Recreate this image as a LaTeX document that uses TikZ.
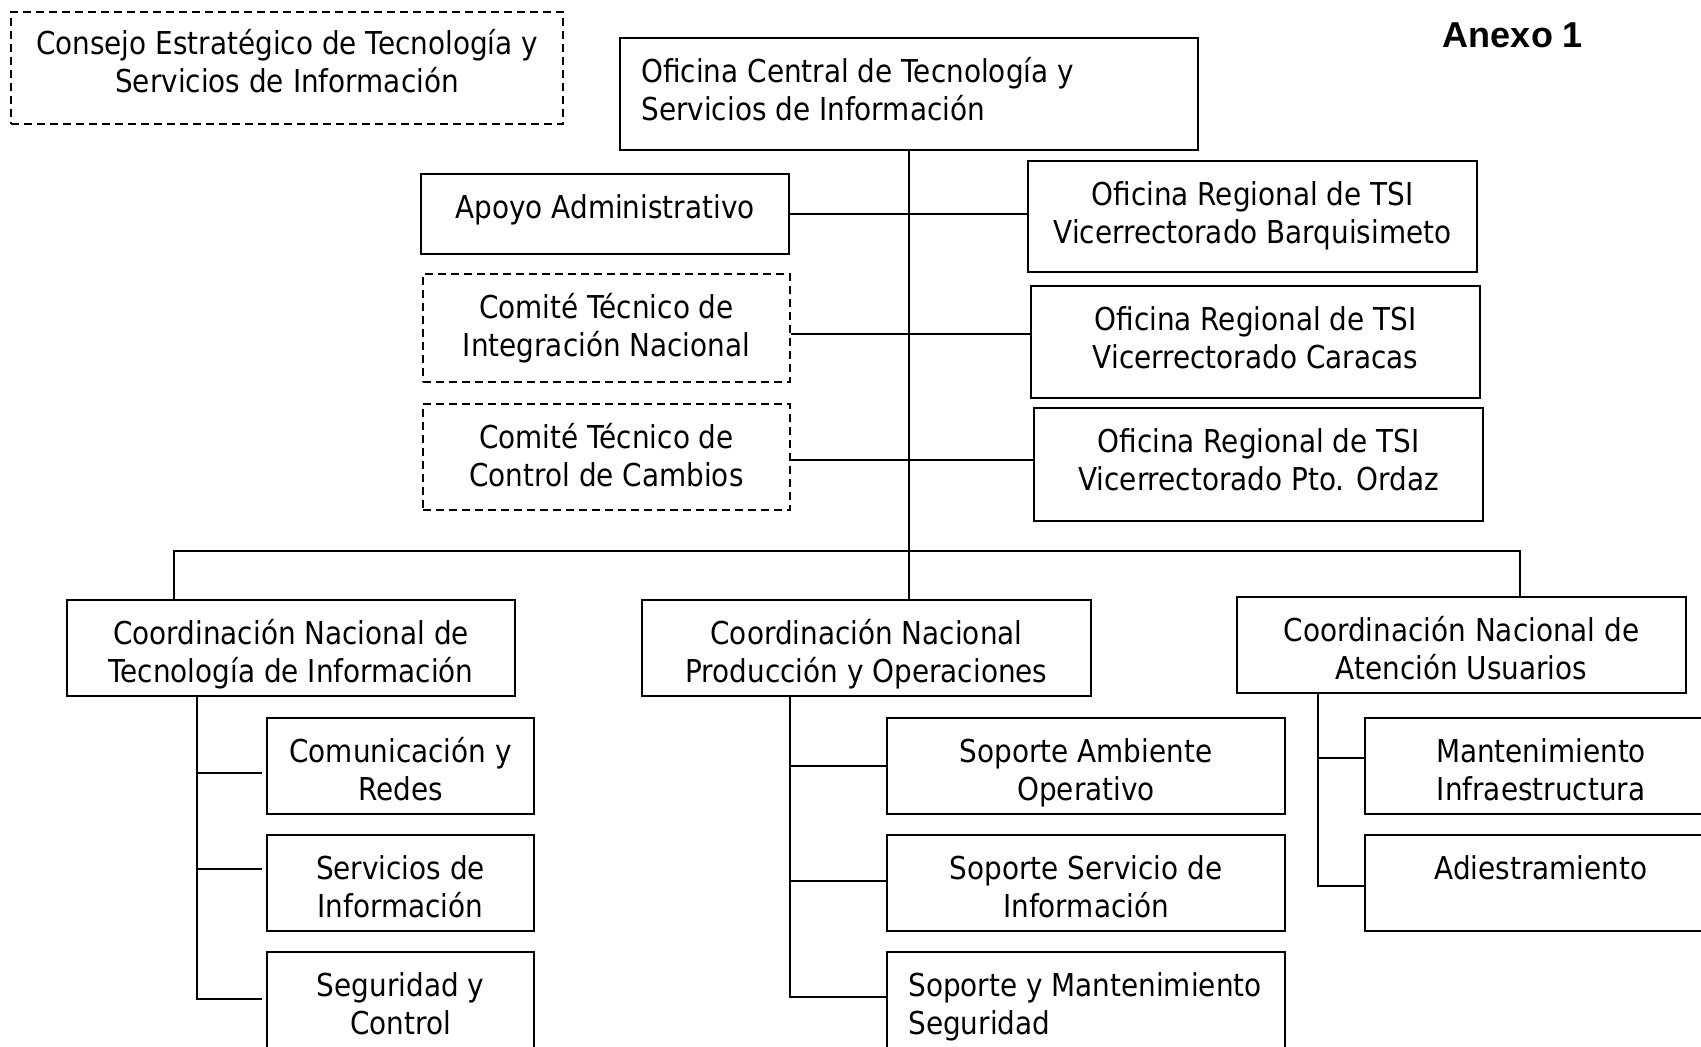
\documentclass[tikz,border=0pt]{standalone}
\usepackage{fontspec}
\setmainfont{DejaVu Sans}[FakeStretch=0.885]
\newfontfamily\anexofont{Liberation Sans}
\newcommand\fs{\rule{0pt}{28pt}}
\begin{document}
\begin{tikzpicture}[x=1pt,y=-1pt,
  every node/.style={font=\fontsize{31.5pt}{38pt}\selectfont},
  box/.style={draw, line width=1.6pt, inner sep=0pt},
  dbox/.style={box, dash pattern=on 8pt off 5pt, line width=1.4pt},
  txt/.style={inner sep=0pt, align=center, anchor=north},
  ltxt/.style={inner sep=0pt, align=left, anchor=north west},
  conn/.style={line width=1.6pt}]
\useasboundingbox (0,0) rectangle (1701,1047);
\fill[white] (0,0) rectangle (1701,1047);
\clip (0,0) rectangle (1701,1047);

% ---------- boxes ----------
\node[dbox, minimum width=552pt, minimum height=112pt] (consejo) at (287,68) {};
\node[box, minimum width=578pt, minimum height=112pt] (central) at (909,94) {};
\node[box, minimum width=368pt, minimum height=80pt] (apoyo) at (605,214) {};
\node[dbox, minimum width=367pt, minimum height=108pt] (cint) at (606.5,328) {};
\node[dbox, minimum width=367pt, minimum height=106pt] (ccamb) at (606.5,457) {};
\node[box, minimum width=449pt, minimum height=111pt] (barq) at (1252.5,216.5) {};
\node[box, minimum width=449pt, minimum height=112pt] (carac) at (1255.5,342) {};
\node[box, minimum width=449pt, minimum height=113pt] (ordaz) at (1258.5,464.5) {};
\node[box, minimum width=448pt, minimum height=96pt] (ctec) at (291,648) {};
\node[box, minimum width=449pt, minimum height=96pt] (cprod) at (866.5,648) {};
\node[box, minimum width=449pt, minimum height=96pt] (caten) at (1461.5,645) {};
\node[box, minimum width=267pt, minimum height=96pt] (comred) at (400.5,766) {};
\node[box, minimum width=267pt, minimum height=96pt] (servinf) at (400.5,883) {};
\node[box, minimum width=267pt, minimum height=96pt] (segctl) at (400.5,1000) {};
\node[box, minimum width=398pt, minimum height=96pt] (sao) at (1086,766) {};
\node[box, minimum width=398pt, minimum height=96pt] (ssi) at (1086,883) {};
\node[box, minimum width=398pt, minimum height=96pt] (smseg) at (1086,1000) {};
\node[box, minimum width=352pt, minimum height=96pt] (minfra) at (1541,766) {};
\node[box, minimum width=352pt, minimum height=96pt] (adiest) at (1541,883) {};

% ---------- texts ----------
\node[txt] (consejoT) at ([yshift=-15pt]consejo.north)
  {\fs Consejo Estratégico de Tecnología y\\Servicios de Información};
\node[ltxt] (centralT) at ([xshift=22pt,yshift=-17pt]central.north west)
  {\fs Oficina Central de Tecnología y\\Servicios de Información};
\node[font={\fontsize{36pt}{40pt}\selectfont\anexofont\bfseries}] (anexo) at (1513,35) {Anexo 1};
\node[txt] (apoyoT) at ([yshift=-17pt]apoyo.north) {\fs Apoyo Administrativo};
\node[txt] (cintT) at ([yshift=-17pt]cint.north) {\fs Comité Técnico de\\Integración Nacional};
\node[txt] (ccambT) at ([yshift=-17pt]ccamb.north) {\fs Comité Técnico de\\Control de Cambios};
\node[txt] (barqT) at ([yshift=-17pt]barq.north) {\fs Oficina Regional de TSI\\Vicerrectorado Barquisimeto};
\node[txt] (caracT) at ([yshift=-17pt]carac.north) {\fs Oficina Regional de TSI\\Vicerrectorado Caracas};
\node[txt] (ordazT) at ([yshift=-17pt]ordaz.north) {\fs Oficina Regional de TSI\\Vicerrectorado Pto. Ordaz};
\node[txt] (ctecT) at ([yshift=-17pt]ctec.north) {\fs Coordinación Nacional de\\Tecnología de Información};
\node[txt] (cprodT) at ([yshift=-17pt]cprod.north) {\fs Coordinación Nacional\\Producción y Operaciones};
\node[txt] (catenT) at ([yshift=-17pt]caten.north) {\fs Coordinación Nacional de\\Atención Usuarios};
\node[txt] (comredT) at ([yshift=-17pt]comred.north) {\fs Comunicación y\\Redes};
\node[txt] (servinfT) at ([yshift=-17pt]servinf.north) {\fs Servicios de\\Información};
\node[txt] (segctlT) at ([yshift=-17pt]segctl.north) {\fs Seguridad y\\Control};
\node[txt] (saoT) at ([yshift=-17pt]sao.north) {\fs Soporte Ambiente\\Operativo};
\node[txt] (ssiT) at ([yshift=-17pt]ssi.north) {\fs Soporte Servicio de\\Información};
\node[ltxt] (smsegT) at ([xshift=22pt,yshift=-17pt]smseg.north west) {\fs Soporte y Mantenimiento\\Seguridad};
\node[txt] (minfraT) at ([yshift=-17pt]minfra.north) {\fs Mantenimiento\\Infraestructura};
\node[txt] (adiestT) at ([yshift=-17pt]adiest.north) {\fs Adiestramiento};

% ---------- connectors ----------
\draw[conn] (central.south) -- (central.south |- cprod.north);
\draw[conn] (apoyo.east) -- (apoyo.east -| barq.west);
\draw[conn] ([yshift=-6pt]cint.east) -- ([yshift=-6pt]cint.east -| carac.west);
\draw[conn] ([yshift=-3pt]ccamb.east) -- ([yshift=-3pt]ccamb.east -| ordaz.west);

\coordinate (busL) at (174,551);
\coordinate (busR) at (1520,551);
\draw[conn] (busL |- ctec.north) -- (busL) -- (busR) -- (busR |- caten.north);

\coordinate (L1) at (197,773);
\coordinate (L2) at (197,869);
\coordinate (L3) at (197,999);
\draw[conn] (ctec.south -| L1) -- (L3) -- ([xshift=-4pt]segctl.west |- L3);
\draw[conn] (L1) -- ([xshift=-4pt]comred.west |- L1);
\draw[conn] (L2) -- ([xshift=-4pt]servinf.west |- L2);

\coordinate (M1) at (790,766);
\coordinate (M2) at (790,881);
\coordinate (M3) at (790,997);
\draw[conn] (cprod.south -| M1) -- (M3) -- (smseg.west |- M3);
\draw[conn] (M1) -- (sao.west |- M1);
\draw[conn] (M2) -- (ssi.west |- M2);

\coordinate (R1) at (1318,758);
\coordinate (R2) at (1318,886);
\draw[conn] (caten.south -| R1) -- (R2) -- (adiest.west |- R2);
\draw[conn] (R1) -- (minfra.west |- R1);
\end{tikzpicture}
\end{document}
